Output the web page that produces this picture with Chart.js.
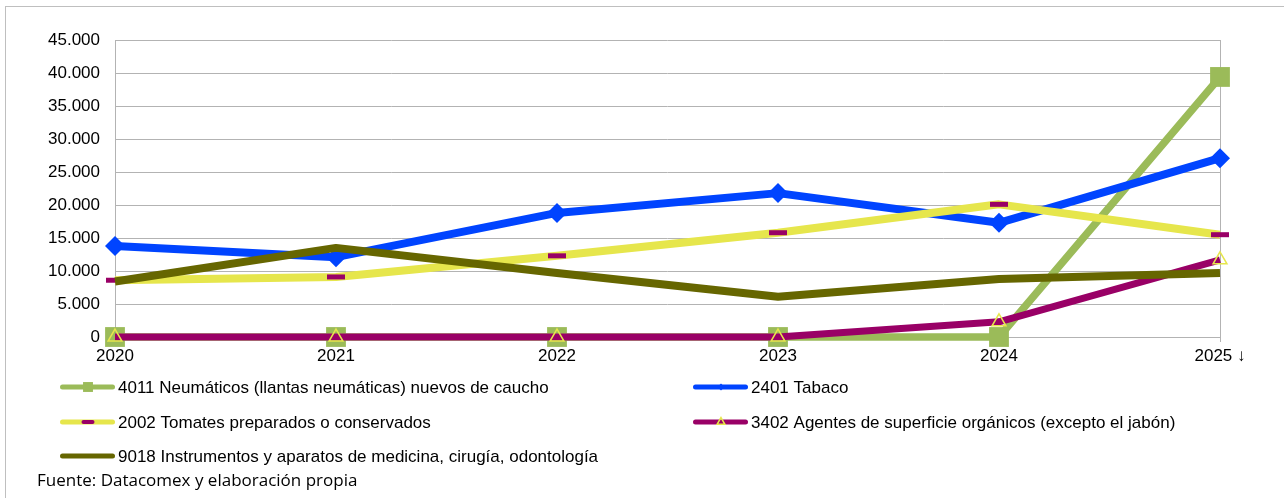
<!DOCTYPE html>
<html>
<head>
<meta charset="utf-8">
<script src="https://cdn.jsdelivr.net/npm/chart.js@4"></script>
<style>
  html, body { margin: 0; padding: 0; background: #fff; }
  #wrap { position: relative; width: 1284px; height: 498px; }
</style>
</head>
<body>
<div id="wrap"><canvas id="chart" width="1284" height="498"></canvas></div>
<script>
const years = ["2020", "2021", "2022", "2023", "2024", "2025 ↓"];
const yTicks = [0, 5000, 10000, 15000, 20000, 25000, 30000, 35000, 40000, 45000];

const neumaticos = [0, 0, 0, 0, 0, 39400];
const tabaco = [13800, 12100, 18800, 21800, 17300, 27100];
const tomates = [8600, 9100, 12300, 15800, 20100, 15500];
const agentes = [0, 0, 0, 0, 2300, 11700];
const instrumentos = [8400, 13500, 9700, 6100, 8800, 9700];

const seriesNames = [
  "4011 Neumáticos (llantas neumáticas) nuevos de caucho",
  "2401 Tabaco",
  "2002 Tomates preparados o conservados",
  "3402 Agentes de superficie orgánicos (excepto el jabón)",
  "9018 Instrumentos y aparatos de medicina, cirugía, odontología"
];

const fmt = v => v.toLocaleString("de-DE");

// legend drawn by hand to get the two-column layout of the original
const legendPlugin = {
  id: "sideLegend",
  afterDraw(chart) {
    const ctx = chart.ctx;
    const slots = [[60, 387], [693, 387], [60, 422], [693, 422], [60, 456]];
    chart.data.datasets.forEach((ds, i) => {
      const [x, y] = slots[i];
      ctx.save();
      ctx.strokeStyle = ds.borderColor;
      ctx.lineWidth = 5;
      ctx.lineCap = "round";
      ctx.beginPath();
      ctx.moveTo(x + 2.5, y);
      ctx.lineTo(x + 52.5, y);
      ctx.stroke();
      if (ds.legendPoint) {
        ctx.fillStyle = ds.pointBackgroundColor;
        ctx.strokeStyle = ds.pointBorderColor;
        ctx.lineWidth = ds.legendBorder;
        Chart.helpers.drawPoint(ctx, {
          pointStyle: ds.pointStyle,
          radius: ds.legendPoint,
          borderWidth: ds.legendBorder,
          rotation: 0
        }, x + 28, y);
      }
      ctx.restore();
      ctx.save();
      ctx.fillStyle = "#000";
      ctx.font = "17px 'Liberation Sans', Arial, sans-serif";
      ctx.textBaseline = "middle";
      ctx.fillText(ds.label, x + 58, y + 1);
      ctx.restore();
    });
    ctx.save();
    ctx.fillStyle = "#000";
    ctx.font = "17px 'Open Sans', sans-serif";
    ctx.textBaseline = "middle";
    ctx.fillText("Fuente: Datacomex y elaboración propia", 37, 481);
    ctx.strokeStyle = "#bfbfbf";
    ctx.lineWidth = 1;
    ctx.strokeRect(5.5, 6.5, 1400, 600);
    ctx.restore();
  }
};

new Chart(document.getElementById("chart"), {
  type: "line",
  data: {
    labels: years,
    datasets: [
      {
        label: seriesNames[0], data: neumaticos, order: 5, clip: false,
        borderColor: "#9bbb59", borderWidth: 7.5,
        pointStyle: "rect", pointRadius: 14, legendPoint: 7, legendBorder: 0,
        pointBackgroundColor: "#9bbb59", pointBorderColor: "#9bbb59", pointBorderWidth: 0
      },
      {
        label: seriesNames[1], data: tabaco, order: 4, clip: false,
        borderColor: "#0044ff", borderWidth: 8,
        pointStyle: "rectRot", pointRadius: 10, legendPoint: 3.5, legendBorder: 0,
        pointBackgroundColor: "#0044ff", pointBorderColor: "#0044ff", pointBorderWidth: 0
      },
      {
        label: seriesNames[2], data: tomates, order: 3, clip: false,
        borderColor: "#e6e64c", borderWidth: 8,
        pointStyle: "line", pointRadius: 9, legendPoint: 4.5, legendBorder: 4,
        pointBackgroundColor: "#990066", pointBorderColor: "#990066", pointBorderWidth: 5
      },
      {
        label: seriesNames[3], data: agentes, order: 2, clip: false,
        borderColor: "#990066", borderWidth: 7,
        pointStyle: "triangle", pointRadius: 8, legendPoint: 4.5, legendBorder: 1.5,
        pointBackgroundColor: "rgba(0,0,0,0)", pointBorderColor: "#e6e64c", pointBorderWidth: 1.5
      },
      {
        label: seriesNames[4], data: instrumentos, order: 1, clip: false,
        borderColor: "#666600", borderWidth: 8,
        pointRadius: 0, legendPoint: 0
      }
    ]
  },
  options: {
    responsive: false,
    animation: false,
    layout: { padding: { left: 10, right: 64, top: 40, bottom: 0 } },
    elements: { line: { tension: 0, borderJoinStyle: "round", borderCapStyle: "butt" } },
    plugins: { legend: { display: false }, tooltip: { enabled: false } },
    scales: {
      x: {
        offset: false,
        border: { display: false },
        grid: {
          color: c => (c.index === 0 || c.index === years.length - 1) ? "#b3b3b3" : "rgba(0,0,0,0)",
          tickLength: 5,
          lineWidth: 1
        },
        ticks: {
          color: "#000",
          font: { family: "'Liberation Sans', Arial, sans-serif", size: 17 },
          maxRotation: 0,
          padding: 4
        },
        afterFit: s => { s.height = 161; }
      },
      y: {
        min: 0, max: 45000,
        border: { display: false },
        grid: { color: "#b3b3b3", drawTicks: false, lineWidth: 1 },
        afterBuildTicks: s => { s.ticks = yTicks.map(v => ({ value: v })); },
        ticks: {
          color: "#000",
          font: { family: "'Liberation Sans', Arial, sans-serif", size: 17 },
          padding: 15,
          callback: v => fmt(v)
        },
        afterFit: s => { s.width = 105; }
      }
    }
  },
  plugins: [legendPlugin]
});
</script>
</body>
</html>
